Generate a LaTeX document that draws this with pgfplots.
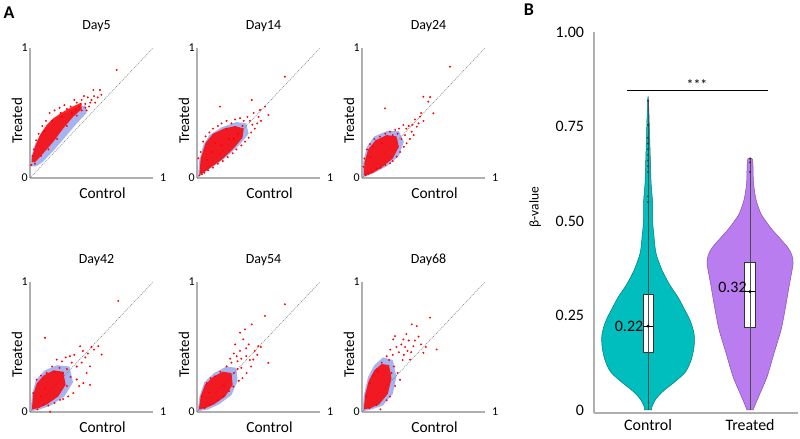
\documentclass[border=0pt]{standalone}
\usepackage{fontspec}
\setmainfont{Carlito}
\usepackage{pgfplots}
\pgfplotsset{compat=1.18}

\definecolor{axgray}{RGB}{175,175,175}
\definecolor{halo}{RGB}{165,180,240}
\definecolor{ctrl}{RGB}{0,190,190}
\definecolor{ctrledge}{RGB}{0,120,120}
\definecolor{trt}{RGB}{185,125,240}
\definecolor{trtedge}{RGB}{130,80,180}

\tikzset{tl/.style={font=\fontsize{12}{14}\selectfont, inner sep=2bp}}

\pgfplotsset{
  scat/.style={
    scale only axis, width=123bp, height=130bp,
    xmin=0, xmax=1, ymin=0, ymax=1,
    axis x line=bottom, axis y line=left,
    axis line style={-, draw=axgray, line width=1.1bp},
    xtick=\empty, ytick=\empty,
    clip=false,
    title style={at={(axis description cs:0.5,1)}, anchor=center, yshift=16bp, xshift=5bp,
      font=\fontsize{14}{16}\selectfont},
    xlabel={Control}, ylabel={Treated},
    xlabel style={at={(axis description cs:0.5,0)}, anchor=center, yshift=-15bp, xshift=11bp,
      font=\fontsize{15.5}{17}\selectfont},
    % shifts are applied in the rotated frame of the label
    ylabel style={at={(axis description cs:0,0.5)}, anchor=center, xshift=-8bp, yshift=13bp,
      font=\fontsize{15}{17}\selectfont},
  },
  diag/.style={draw=black!55, line width=0.5pt, dash pattern=on 1pt off 1pt},
  pts/.style={only marks, mark=*, mark size=0.75pt, red},
  core/.style={fill=red, draw=none, fill opacity=0.85},
  cloud/.style={fill=halo, draw=none},
}

\begin{document}
\begin{tikzpicture}
\path[use as bounding box] (0,0) rectangle (800bp,439bp);

\node[font=\bfseries\fontsize{18}{20}\selectfont] at (9bp,426.5bp) {A};
\node[font=\bfseries\fontsize{18}{20}\selectfont] at (529bp,429bp) {B};

% ---- Day5
\begin{axis}[scat, at={(30bp,261bp)}, anchor=south west, title={Day5}]
\addplot[cloud] coordinates {(0.005,0.09)(0.01,0.16)(0.04,0.26)(0.1,0.36)(0.18,0.44)(0.28,0.5)(0.38,0.54)(0.45,0.56)(0.46,0.5)(0.38,0.42)(0.3,0.33)(0.2,0.22)(0.1,0.12)(0.05,0.09)};
\addplot[diag] coordinates {(0,0)(1,1)};
\addplot[core] coordinates {(0.014,0.125)(0.02,0.17)(0.041,0.241)(0.081,0.331)(0.136,0.408)(0.19,0.459)(0.271,0.51)(0.352,0.552)(0.42,0.58)(0.42,0.53)(0.352,0.472)(0.271,0.382)(0.19,0.279)(0.108,0.19)(0.04,0.12)};
\addplot[pts] coordinates {
(0.38,0.58)(0.42,0.6)(0.45,0.57)(0.47,0.62)(0.5,0.6)(0.52,0.63)(0.48,0.55)(0.44,0.63)
(0.4,0.55)(0.36,0.6)(0.33,0.55)(0.3,0.53)(0.28,0.56)(0.515,0.677)(0.569,0.677)(0.705,0.831)
(0.16,0.5)(0.2,0.52)(0.24,0.54)(0.13,0.44)(0.1,0.4)(0.07,0.34)(0.05,0.29)(0.03,0.22)
(0.02,0.17)(0.01,0.1)(0.04,0.11)(0.09,0.17)(0.15,0.22)(0.22,0.3)(0.3,0.4)(0.38,0.48)
(0.46,0.52)(0.53,0.58)(0.55,0.62)(0.58,0.64)(0.34,0.5)(0.26,0.47)(0.18,0.44)(0.12,0.36)
(0.42,0.52)(0.25,0.5)(0.45,0.54)(0.49,0.58)(0.41,0.57)(0.37,0.53)};
\node[tl, anchor=east] at (axis cs:0,1) {1};
\node[tl, anchor=east] at (axis cs:0,0) {0};
\node[tl, anchor=west] at (axis cs:1.04,0) {1};
\end{axis}

% ---- Day14
\begin{axis}[scat, at={(197bp,261bp)}, anchor=south west, title={Day14}]
\addplot[cloud] coordinates {(0.01,0.01)(0.015,0.12)(0.05,0.25)(0.1,0.33)(0.2,0.39)(0.32,0.43)(0.4,0.42)(0.42,0.34)(0.35,0.26)(0.25,0.17)(0.15,0.1)(0.07,0.05)};
\addplot[diag] coordinates {(0,0)(1,1)};
\addplot[core] coordinates {(0.02,0.03)(0.03,0.15)(0.07,0.27)(0.13,0.34)(0.22,0.38)(0.31,0.4)(0.38,0.38)(0.37,0.31)(0.3,0.23)(0.2,0.14)(0.11,0.08)(0.05,0.04)};
\addplot[pts] coordinates {
(0.011,0.151)(0.03,0.2)(0.05,0.28)(0.07,0.32)(0.1,0.35)(0.13,0.38)(0.17,0.4)(0.2,0.42)
(0.24,0.44)(0.28,0.42)(0.31,0.45)(0.35,0.46)(0.38,0.44)(0.41,0.47)(0.43,0.44)(0.45,0.41)
(0.47,0.38)(0.44,0.35)(0.42,0.31)(0.39,0.28)(0.36,0.25)(0.32,0.22)(0.29,0.19)(0.25,0.16)
(0.21,0.13)(0.17,0.11)(0.13,0.08)(0.09,0.06)(0.06,0.04)(0.04,0.03)(0.02,0.02)(0.187,0.549)
(0.445,0.6)(0.512,0.523)(0.553,0.549)(0.58,0.485)(0.715,0.779)(0.5,0.47)(0.46,0.5)(0.37,0.4)
(0.33,0.34)(0.26,0.3)(0.15,0.27)(0.12,0.2)(0.2,0.25)(0.08,0.14)(0.24,0.38)(0.3,0.3)
(0.52,0.44)(0.49,0.42)};
\node[tl, anchor=east] at (axis cs:0,1) {1};
\node[tl, anchor=east] at (axis cs:0,0) {0};
\node[tl, anchor=west] at (axis cs:1.04,0) {1};
\end{axis}

% ---- Day24
\begin{axis}[scat, at={(362bp,261bp)}, anchor=south west, title={Day24}]
\addplot[cloud] coordinates {(0.005,0.005)(0.01,0.12)(0.04,0.24)(0.1,0.32)(0.2,0.36)(0.3,0.36)(0.34,0.28)(0.3,0.17)(0.2,0.09)(0.1,0.04)};
\addplot[diag] coordinates {(0,0)(1,1)};
\addplot[core] coordinates {(0.015,0.02)(0.02,0.12)(0.05,0.22)(0.11,0.29)(0.2,0.33)(0.28,0.32)(0.3,0.24)(0.25,0.15)(0.16,0.08)(0.08,0.035)};
\addplot[pts] coordinates {
(0.011,0.087)(0.02,0.15)(0.04,0.22)(0.065,0.26)(0.1,0.3)(0.146,0.318)(0.19,0.34)(0.228,0.356)
(0.27,0.37)(0.3,0.38)(0.336,0.408)(0.36,0.38)(0.38,0.4)(0.404,0.356)(0.42,0.33)(0.39,0.3)
(0.363,0.267)(0.34,0.24)(0.31,0.2)(0.282,0.164)(0.25,0.13)(0.228,0.113)(0.19,0.1)(0.15,0.08)
(0.119,0.074)(0.08,0.05)(0.05,0.03)(0.03,0.02)(0.187,0.536)(0.499,0.625)(0.539,0.587)(0.472,0.472)
(0.445,0.395)(0.58,0.498)(0.715,0.856)(0.553,0.623)(0.5,0.44)(0.46,0.42)(0.43,0.45)(0.48,0.5)
(0.41,0.41)(0.35,0.33)(0.32,0.3)(0.29,0.34)(0.25,0.33)(0.07,0.16)(0.09,0.24)(0.16,0.27)};
\node[tl, anchor=east] at (axis cs:0,1) {1};
\node[tl, anchor=east] at (axis cs:0,0) {0};
\node[tl, anchor=west] at (axis cs:1.04,0) {1};
\end{axis}

% ---- Day42
\begin{axis}[scat, at={(30bp,27bp)}, anchor=south west, title={Day42}]
\addplot[cloud] coordinates {(0.005,0.005)(0.015,0.13)(0.05,0.25)(0.12,0.32)(0.22,0.36)(0.32,0.35)(0.35,0.23)(0.28,0.12)(0.17,0.05)(0.08,0.02)};
\addplot[diag] coordinates {(0,0)(1,1)};
\addplot[core] coordinates {(0.015,0.02)(0.025,0.13)(0.055,0.22)(0.11,0.28)(0.19,0.32)(0.27,0.31)(0.29,0.21)(0.23,0.12)(0.14,0.06)(0.07,0.03)};
\addplot[pts] coordinates {
(0.027,0.145)(0.054,0.248)(0.09,0.28)(0.136,0.3)(0.18,0.35)(0.217,0.403)(0.26,0.39)(0.29,0.42)
(0.325,0.429)(0.36,0.44)(0.407,0.506)(0.43,0.47)(0.45,0.42)(0.488,0.351)(0.46,0.3)(0.434,0.222)
(0.4,0.2)(0.38,0.25)(0.352,0.145)(0.31,0.12)(0.27,0.1)(0.244,0.093)(0.2,0.07)(0.15,0.05)
(0.108,0.054)(0.163,0.002)(0.06,0.02)(0.122,0.571)(0.718,0.855)(0.583,0.442)(0.555,0.506)(0.488,0.209)
(0.5,0.5)(0.52,0.48)(0.47,0.45)(0.34,0.38)(0.3,0.33)(0.27,0.3)(0.24,0.34)(0.2,0.31)
(0.33,0.27)(0.3,0.2)(0.12,0.18)(0.09,0.12)(0.38,0.35)(0.42,0.38)};
\node[tl, anchor=east] at (axis cs:0,1) {1};
\node[tl, anchor=east] at (axis cs:0,0) {0};
\node[tl, anchor=west] at (axis cs:1.04,0) {1};
\end{axis}

% ---- Day54
\begin{axis}[scat, at={(197bp,27bp)}, anchor=south west, title={Day54}]
\addplot[cloud] coordinates {(0.005,0.005)(0.02,0.12)(0.06,0.23)(0.14,0.3)(0.24,0.35)(0.32,0.34)(0.33,0.24)(0.28,0.13)(0.18,0.06)(0.09,0.02)};
\addplot[diag] coordinates {(0,0)(1,1)};
\addplot[core] coordinates {(0.015,0.02)(0.03,0.12)(0.065,0.21)(0.13,0.27)(0.21,0.31)(0.28,0.3)(0.29,0.21)(0.23,0.12)(0.14,0.06)(0.07,0.03)};
\addplot[pts] coordinates {
(0.038,0.119)(0.079,0.222)(0.11,0.26)(0.146,0.274)(0.19,0.31)(0.241,0.351)(0.28,0.38)(0.323,0.429)
(0.35,0.47)(0.376,0.558)(0.3,0.45)(0.27,0.41)(0.33,0.39)(0.36,0.41)(0.4,0.43)(0.43,0.4)
(0.458,0.403)(0.44,0.35)(0.404,0.3)(0.37,0.26)(0.34,0.24)(0.295,0.196)(0.26,0.16)(0.214,0.119)
(0.17,0.09)(0.106,0.054)(0.06,0.03)(0.715,0.829)(0.553,0.739)(0.445,0.674)(0.39,0.636)(0.58,0.378)
(0.498,0.506)(0.35,0.61)(0.42,0.52)(0.47,0.47)(0.52,0.5)(0.4,0.49)(0.31,0.52)(0.33,0.33)
(0.3,0.3)(0.22,0.2)(0.1,0.15)(0.49,0.44)(0.36,0.34)};
\node[tl, anchor=east] at (axis cs:0,1) {1};
\node[tl, anchor=east] at (axis cs:0,0) {0};
\node[tl, anchor=west] at (axis cs:1.04,0) {1};
\end{axis}

% ---- Day68
\begin{axis}[scat, at={(362bp,27bp)}, anchor=south west, title={Day68}]
\addplot[cloud] coordinates {(0.005,0.005)(0.015,0.13)(0.05,0.27)(0.1,0.36)(0.17,0.42)(0.25,0.4)(0.28,0.27)(0.25,0.14)(0.17,0.05)(0.08,0.02)};
\addplot[diag] coordinates {(0,0)(1,1)};
\addplot[core] coordinates {(0.015,0.02)(0.025,0.13)(0.055,0.24)(0.1,0.32)(0.16,0.37)(0.22,0.36)(0.24,0.26)(0.21,0.14)(0.14,0.06)(0.07,0.03)};
\addplot[pts] coordinates {
(0.038,0.119)(0.065,0.222)(0.09,0.28)(0.119,0.326)(0.16,0.38)(0.201,0.429)(0.23,0.48)(0.254,0.558)
(0.28,0.5)(0.3,0.46)(0.336,0.558)(0.32,0.52)(0.35,0.5)(0.37,0.47)(0.39,0.403)(0.418,0.506)
(0.38,0.55)(0.36,0.6)(0.33,0.4)(0.309,0.248)(0.29,0.3)(0.27,0.2)(0.228,0.119)(0.2,0.09)
(0.119,0.054)(0.06,0.03)(0.15,0.02)(0.553,0.726)(0.445,0.661)(0.404,0.674)(0.268,0.584)(0.499,0.455)
(0.607,0.481)(0.46,0.58)(0.43,0.55)(0.48,0.52)(0.52,0.5)(0.25,0.44)(0.22,0.4)(0.26,0.35)
(0.13,0.31)(0.24,0.3)(0.34,0.44)(0.4,0.46)};
\node[tl, anchor=east] at (axis cs:0,1) {1};
\node[tl, anchor=east] at (axis cs:0,0) {0};
\node[tl, anchor=west] at (axis cs:1.04,0) {1};
\end{axis}

% ---- Panel B: violins
\begin{axis}[
  scale only axis, width=204bp, height=381bp,
  at={(594bp,26bp)}, anchor=south west,
  xmin=0.47, xmax=2.47, ymin=-0.008, ymax=1.0,
  axis x line=bottom, axis y line=left,
  axis line style={-, draw=axgray, line width=1.2bp},
  xtick={1,2}, xticklabels={Control,Treated},
  ytick={0,0.25,0.5,0.75,1}, yticklabels={0,0.25,0.50,0.75,1.00},
  major tick length=0pt,
  tick label style={font=\fontsize{16}{18}\selectfont},
  xticklabel style={yshift=-3bp},
  yticklabel style={xshift=-6.5bp},
  clip=false,
]
\addplot[fill=ctrl, draw=ctrledge, line width=0.5pt, smooth, tension=0.5] coordinates {
(0.965,0)(0.960,0.01)(0.920,0.03)(0.850,0.05)(0.735,0.075)(0.635,0.1)(0.580,0.13)(0.550,0.165)
(0.548,0.2)(0.585,0.235)(0.650,0.27)(0.710,0.3)(0.785,0.33)(0.863,0.37)(0.922,0.415)(0.942,0.46)
(0.955,0.5)(0.956,0.55)(0.970,0.6)(0.976,0.65)(0.985,0.73)(0.996,0.82)
(1.004,0.82)(1.015,0.73)(1.024,0.65)(1.030,0.6)(1.044,0.55)(1.045,0.5)(1.058,0.46)(1.078,0.415)
(1.137,0.37)(1.215,0.33)(1.29,0.3)(1.35,0.27)(1.415,0.235)(1.452,0.2)(1.45,0.165)(1.42,0.13)
(1.365,0.1)(1.265,0.075)(1.15,0.05)(1.08,0.03)(1.04,0.01)(1.035,0)} -- cycle;
\addplot[fill=trt, draw=trtedge, line width=0.5pt, smooth, tension=0.5] coordinates {
(1.97,0)(1.94,0.02)(1.902,0.044)(1.833,0.088)(1.765,0.15)(1.696,0.212)(1.657,0.265)(1.618,0.326)
(1.595,0.36)(1.578,0.388)(1.59,0.41)(1.63,0.43)(1.72,0.458)(1.78,0.476)(1.82,0.49)(1.86,0.505)
(1.895,0.52)(1.941,0.556)(1.966,0.6)(1.971,0.644)(1.98,0.665)
(2.02,0.665)(2.029,0.644)(2.034,0.6)(2.059,0.556)(2.105,0.52)(2.14,0.505)(2.18,0.49)(2.22,0.476)
(2.28,0.458)(2.37,0.43)(2.41,0.41)(2.422,0.388)(2.405,0.36)(2.382,0.326)(2.343,0.265)(2.304,0.212)
(2.235,0.15)(2.167,0.088)(2.098,0.044)(2.06,0.02)(2.03,0)} -- cycle;
% boxes
\addplot[fill=white, draw=black!80, line width=0.4pt] coordinates {(0.948,0.154)(1.052,0.154)(1.052,0.307)(0.948,0.307)} -- cycle;
\addplot[fill=white, draw=black!80, line width=0.4pt] coordinates {(1.945,0.218)(2.055,0.218)(2.055,0.39)(1.945,0.39)} -- cycle;
% whiskers
\addplot[draw=black!70, line width=0.5pt] coordinates {(1,0)(1,0.82)};
\addplot[draw=black!70, line width=0.5pt] coordinates {(2,0)(2,0.665)};
% medians
\addplot[draw=black, line width=0.5pt] coordinates {(0.95,0.222)(1.05,0.222)};
\addplot[draw=black, line width=0.5pt] coordinates {(1.945,0.313)(2.055,0.313)};
\addplot[only marks, mark=*, mark size=1.3pt, black] coordinates {(1,0.222)(2,0.313)};
% outliers
\addplot[only marks, mark=*, mark size=0.8pt, black!80] coordinates {
(1,0.818)(1,0.754)(1,0.72)(1,0.705)(1,0.69)(1,0.675)(1,0.66)(1,0.645)(1,0.63)(1,0.565)(1,0.55)
(2,0.665)(2,0.655)(2,0.63)};
% significance
\addplot[draw=black, line width=0.6pt] coordinates {(0.794,0.845)(2.176,0.845)};
\node[anchor=south, inner sep=1bp, font=\fontsize{14}{16}\selectfont] at (axis cs:1.48,0.846) {***};
\node[anchor=east, inner sep=0pt, font=\fontsize{16}{18}\selectfont] at (axis cs:0.954,0.222) {0.22};
\node[anchor=east, inner sep=0pt, font=\fontsize{16}{18}\selectfont] at (axis cs:1.968,0.324) {0.32};
\end{axis}
\node[rotate=90, font=\fontsize{13.5}{15}\selectfont] at (535bp,232bp) {β-value};
\end{tikzpicture}
\end{document}
